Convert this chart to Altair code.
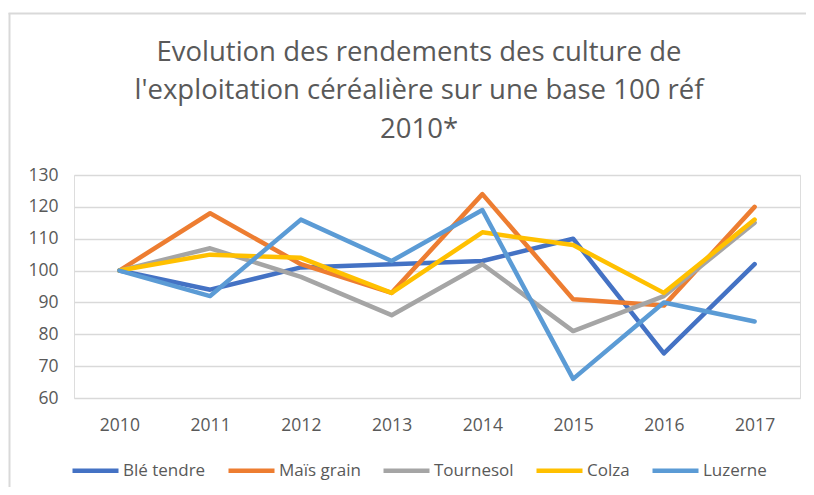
import altair as alt
import pandas as pd

years = ["2010", "2011", "2012", "2013", "2014", "2015", "2016", "2017"]
series_names = ["Blé tendre", "Maïs grain", "Tournesol", "Colza", "Luzerne"]
ble_tendre = [100, 94, 101, 102, 103, 110, 74, 102]
mais_grain = [100, 118, 102, 93, 124, 91, 89, 120]
tournesol = [100, 107, 98, 86, 102, 81, 92, 115]
colza = [100, 105, 104, 93, 112, 108, 93, 116]
luzerne = [100, 92, 116, 103, 119, 66, 90, 84]
colors = ["#4472C4", "#ED7D31", "#A5A5A5", "#FFC000", "#5B9BD5"]
y_ticks = [60, 70, 80, 90, 100, 110, 120, 130]

rows = []
for name, vals in zip(series_names, [ble_tendre, mais_grain, tournesol, colza, luzerne]):
    for i, (yr, v) in enumerate(zip(years, vals)):
        rows.append({"Année": yr, "Culture": name, "Valeur": v, "ordre": series_names.index(name)})
df = pd.DataFrame(rows)

FONT = "Open Sans"
GREY = "#595959"

lines = alt.Chart(df).mark_line(strokeWidth=4.5, strokeJoin="round", strokeCap="round").encode(
    x=alt.X("Année:O", sort=years, title=None,
            scale=alt.Scale(type="point", padding=0.5),
            axis=alt.Axis(labelAngle=0, ticks=False, tickSize=0, domain=False, grid=False,
                          labelPadding=18, labelFontSize=17.5, labelColor=GREY, labelFont=FONT)),
    y=alt.Y("Valeur:Q", title=None,
            scale=alt.Scale(domain=[60, 130], nice=False, zero=False),
            axis=alt.Axis(values=y_ticks, ticks=False, tickSize=0, domain=False,
                          grid=True, gridColor="#d9d9d9", gridWidth=1.5,
                          labelPadding=16, labelFontSize=17.5, labelColor=GREY, labelFont=FONT)),
    color=alt.Color("Culture:N", sort=series_names,
                    scale=alt.Scale(domain=series_names, range=colors),
                    legend=alt.Legend(title=None, orient="none", direction="horizontal",
                                      legendX=-4, legendY=270,
                                      symbolType="stroke", symbolSize=2116, symbolStrokeWidth=4.5,
                                      labelOffset=2, columnPadding=13,
                                      labelFontSize=17, labelColor=GREY, labelFont=FONT)),
    order="ordre:Q",
)

frame_df = pd.DataFrame({"a": [0]})
frame_left = alt.Chart(frame_df).mark_rule(color="#d9d9d9", strokeWidth=2).encode(
    x=alt.value(-64.5), x2=alt.value(-64.5), y=alt.value(-162), y2=alt.value(330))
frame_top = alt.Chart(frame_df).mark_rule(color="#d9d9d9", strokeWidth=2).encode(
    x=alt.value(-65.5), x2=alt.value(760), y=alt.value(-161.5), y2=alt.value(-161.5))

chart = alt.layer(lines, frame_left, frame_top).properties(
    width=726, height=223,
    autosize=alt.AutoSizeParams(type="none"),
    padding={"left": 66, "top": 167, "right": 6, "bottom": 89},
    title=alt.TitleParams(
        text=["Evolution des rendements des culture de",
              "l'exploitation céréalière sur une base 100 réf",
              "2010*"],
        anchor="middle", frame="group", dx=-18, offset=0, dy=131, fontSize=27.5, font=FONT,
        fontWeight="normal", color=GREY, lineHeight=38.5),
).configure_view(stroke=None).configure(background="white")

chart.save("out.html", embed_options={"renderer": "svg", "actions": False})
